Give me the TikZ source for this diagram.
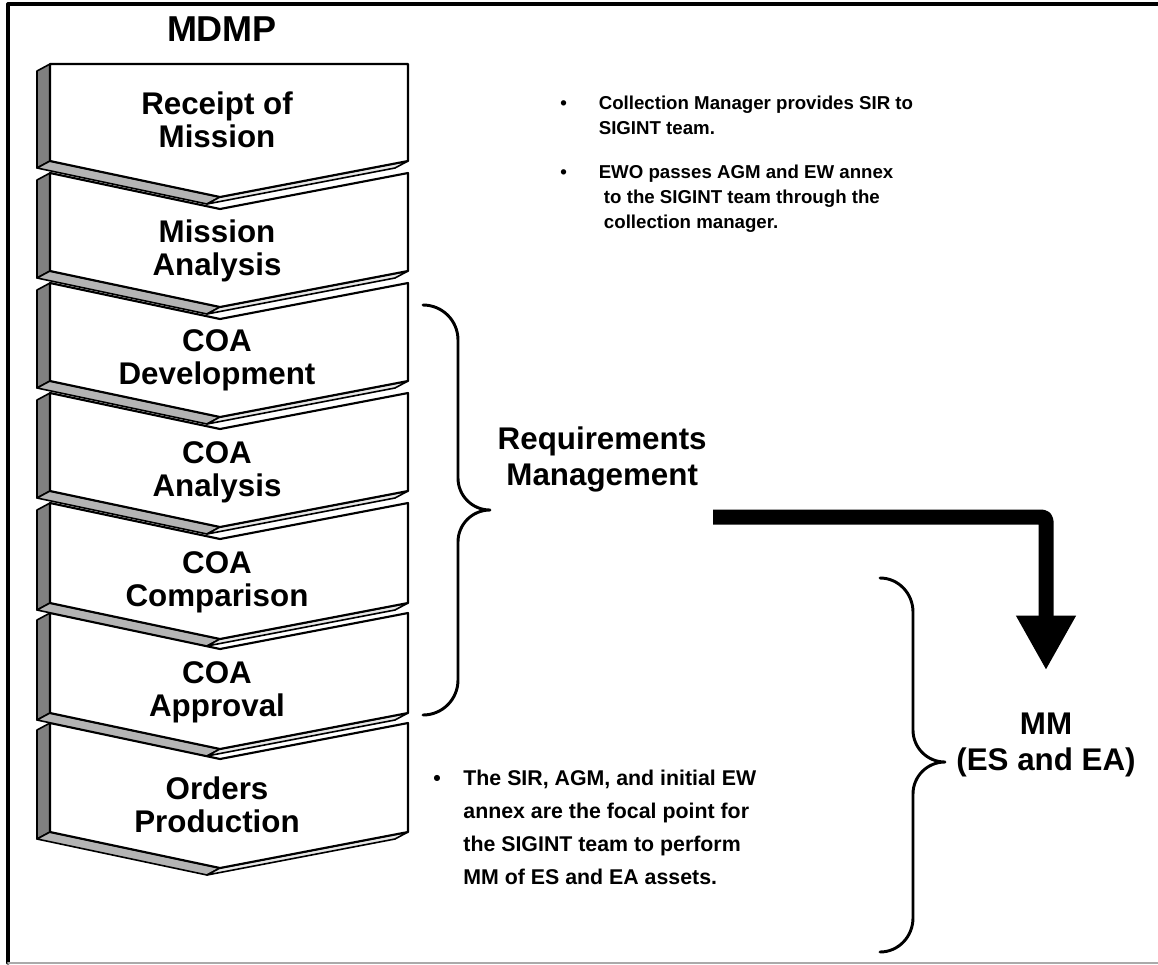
\documentclass[tikz,border=0pt]{standalone}
\usepackage{fontspec}
\setmainfont{Liberation Sans}
\usetikzlibrary{arrows.meta, positioning}
\definecolor{sidegray}{RGB}{128,128,128}
\definecolor{bevelgray}{RGB}{180,180,180}
\definecolor{lightbevel}{RGB}{230,230,230}
\definecolor{framegray}{RGB}{170,170,170}

\begin{document}
\begin{tikzpicture}[x=0.75pt, y=-0.75pt, line cap=round, line join=round,
	chevface/.style={draw=black, line width=1.6pt, fill=white},
	chevside/.style={draw=black, line width=1.2pt, fill=sidegray},
	chevleft/.style={draw=black, line width=1.2pt, fill=bevelgray},
	chevright/.style={draw=black, line width=1.2pt, fill=lightbevel},
	chevtext/.style={font=\fontsize{23.5}{25}\selectfont\bfseries, align=center},
	bigtext/.style={font=\fontsize{23.5}{27}\selectfont\bfseries, align=center},
	notetext/.style={font=\fontsize{14}{18.75}\selectfont\bfseries, align=left, inner sep=0pt},
	bracestyle/.style={line width=2.2pt},
	bigarrow/.style={line width=11.25pt, line cap=butt, rounded corners=3pt, -{Triangle[width=42pt, length=41pt]}}]
	\useasboundingbox (0,0) rectangle (1158,965);
	% frame
	\draw[line width=2.4pt] (1158,4) -- (8,4) -- (8,963);
	\draw[framegray, line width=1.5pt] (8,963) -- (1158,963);

	\node[font=\fontsize{27}{30}\selectfont\bfseries] (mdmp) at (222,29) {MDMP};

	% chevrons, drawn from the bottom up
	\foreach \k/\yt/\nt/\yb/\ty/\lbl in {6/723/36/832/805/{Orders\\Production},
		5/613/36/713/692/{COA\\Approval}, 4/503/36/603/582/{COA\\Comparison},
		3/393/36/491/472/{COA\\Analysis}, 2/283/36/381/360/{COA\\Development},
		1/173/36/271/251/{Mission\\Analysis}, 0/64/0/161/120/{Receipt of\\Mission}}{
		\filldraw[chevside] (50,\yt) -- (37,\yt+7) -- (37,\yb+7) -- (50,\yb) -- cycle;
		\filldraw[chevleft] (50,\yb) -- (37,\yb+7) -- (207,\yb+43) -- (220,\yb+36) -- cycle;
		\filldraw[chevright] (220,\yb+36) -- (207,\yb+43) -- (395,\yb+7) -- (408,\yb) -- cycle;
		\filldraw[chevface] (50,\yt) -- (220,\yt+\nt) -- (408,\yt) -- (408,\yb) -- (220,\yb+36) -- (50,\yb) -- cycle;
		\node[chevtext] (chev\k) at (217,\ty) {\lbl};
	}

	% notes
	\node[notetext, anchor=north west] (sirnote) at (560,92) {%
		\begin{tabular}{@{}l@{\hspace{24pt}}l@{}}
		•& Collection Manager provides SIR to\\
		 & SIGINT team.\\[14pt]
		•& EWO passes AGM and EW annex\\
		 & \ to the SIGINT team through the\\
		 & \ collection manager.
		\end{tabular}};
	\node[notetext, font=\fontsize{16}{24.75}\selectfont\bfseries, anchor=north west] (mmnote) at (433,762) {%
		\begin{tabular}{@{}l@{\hspace{17pt}}l@{}}
		•& The SIR, AGM, and initial EW\\
		 & annex are the focal point for\\
		 & the SIGINT team to perform\\
		 & MM of ES and EA assets.
		\end{tabular}};

	% braces
	\draw[bracestyle] (423,305) to[out=0, in=90] (458,340) -- (458,478)
		to[out=-90, in=180] (490,510) coordinate (reqtip)
		to[out=180, in=90] (458,542) -- (458,680) to[out=-90, in=0] (423,715);
	\draw[bracestyle] (880,578) to[out=0, in=90] (913,612) -- (913,730)
		to[out=-90, in=180] (945,762) coordinate (mmtip)
		to[out=180, in=90] (913,794) -- (913,918) to[out=-90, in=0] (880,952);

	\node[bigtext, anchor=west] (req) at (493,459) {Requirements\\Management};
	\node[bigtext] (mm) at (1046,745) {MM\\(ES and EA)};

	% thick arrow
	\coordinate (armstart) at (713,517);
	\draw[bigarrow] (armstart) -| ([yshift=28.5pt]mm.north);
\end{tikzpicture}
\end{document}
